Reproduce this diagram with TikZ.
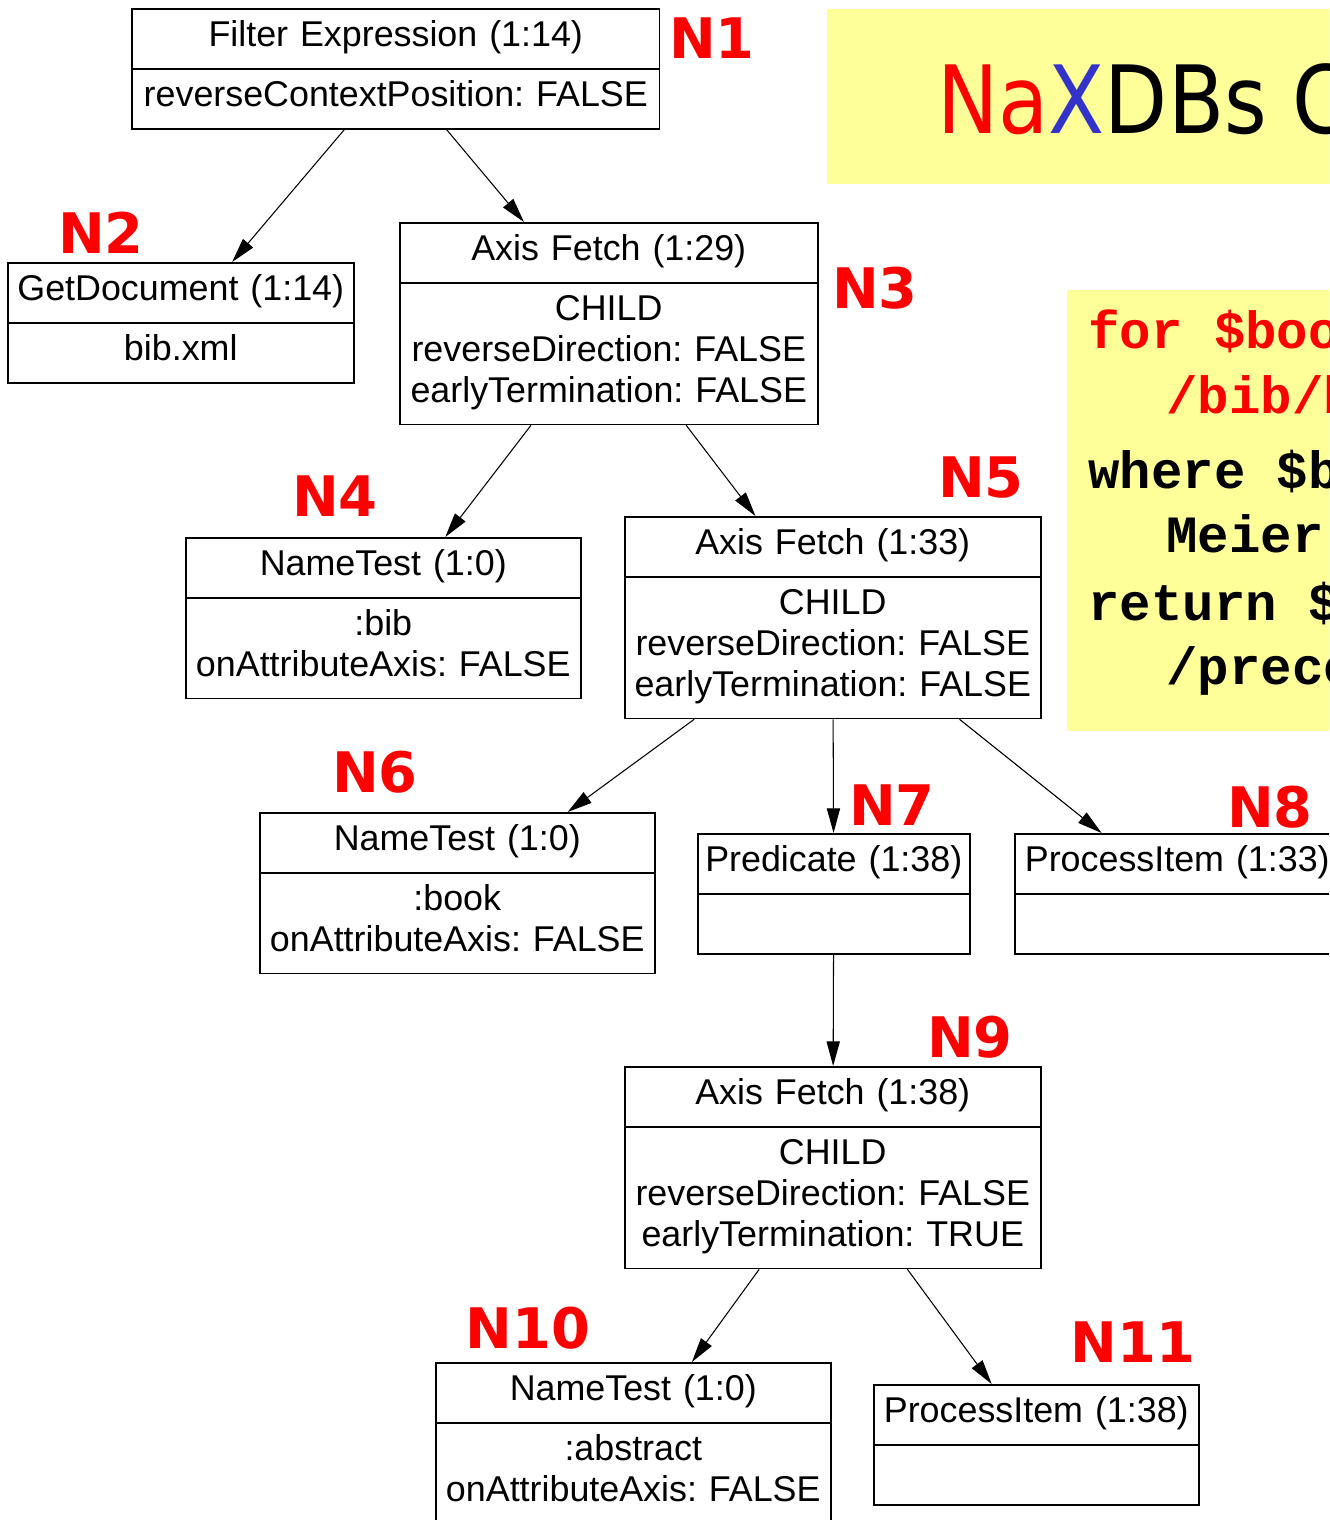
\documentclass[tikz,border=0pt]{standalone}
\usepackage{fontspec}
\setmainfont{Liberation Sans}
\setmonofont{Liberation Mono}
\newfontfamily\labelfont{DejaVu Sans}
\newfontfamily\titlefont[FakeStretch=0.87]{DejaVu Sans}
\usetikzlibrary{shapes.multipart,arrows.meta}
\definecolor{notebg}{HTML}{FFFF99}
\definecolor{xblue}{HTML}{3333CC}
\frenchspacing

\begin{document}
\begin{tikzpicture}[x=0.02cm,y=-0.02cm]
		\tikzstyle{opnode} = [draw,line width=0.9pt,rectangle split,rectangle split parts=2,anchor=north west,inner xsep=0pt,inner ysep=5pt,align=center,font=\fontsize{20.4pt}{23.25pt}\selectfont,execute at begin node=\strut,execute at end node=\strut]
		\tikzstyle{nlabel} = [text=red,inner sep=0pt,font=\labelfont\bfseries\fontsize{31.8pt}{34pt}\selectfont]
		\tikzstyle{edge} = [line width=0.6pt,-{Triangle[length=14pt,width=7.5pt]}]
		\tikzstyle{codeline} = [anchor=base west,inner sep=0pt,font=\ttfamily\bfseries\fontsize{29.8pt}{32pt}\selectfont]
		\useasboundingbox (0,0) rectangle (1329,1520);
		\clip (0,0) rectangle (1329,1520);

		\fill[notebg] (827,9) rectangle (1340,184);
		\fill[notebg] (1067,290) rectangle (1340,731);
		\node[anchor=base west,inner sep=0pt,font=\titlefont\fontsize{53.6pt}{60pt}\selectfont] (title) at (937,134) {\textcolor{red}{Na}\textcolor{xblue}{X}DBs C};

		\node[codeline,text=red] (forclause) at (1088,348) {for \$book in};
		\node[codeline,text=red] (forpath) at (1166,413) {/bib/book};
		\node[codeline] (whereclause) at (1088,488) {where \$book/author =};
		\node[codeline] (whereval) at (1166,552) {Meier};
		\node[codeline] (retclause) at (1088,620) {return \$book};
		\node[codeline] (retpath) at (1166,684) {/preceding};

		\node[opnode,text width=10.56cm] (n1) at (131,8) {Filter Expression (1:14)\nodepart{two}reverseContextPosition: FALSE};
		\node[opnode,text width=6.92cm] (n2) at (7,262) {GetDocument (1:14)\nodepart{two}bib.xml};
		\node[opnode,text width=8.36cm] (n3) at (399,222) {Axis Fetch (1:29)\nodepart{two}CHILD\\reverseDirection: FALSE\\earlyTermination: FALSE};
		\node[opnode,text width=7.9cm] (n4) at (185,537) {NameTest (1:0)\nodepart{two}:bib\\onAttributeAxis: FALSE};
		\node[opnode,text width=8.32cm] (n5) at (624,516) {Axis Fetch (1:33)\nodepart{two}CHILD\\reverseDirection: FALSE\\earlyTermination: FALSE};
		\node[opnode,text width=7.9cm] (n6) at (259,812) {NameTest (1:0)\nodepart{two}:book\\onAttributeAxis: FALSE};
		\node[opnode,text width=5.44cm] (n7) at (697,833) {Predicate (1:38)\nodepart{two}};
		\node[opnode,text width=6.5cm] (n8) at (1014,833) {ProcessItem (1:33)\nodepart{two}};
		\node[opnode,text width=8.32cm] (n9) at (624,1066) {Axis Fetch (1:38)\nodepart{two}CHILD\\reverseDirection: FALSE\\earlyTermination: TRUE};
		\node[opnode,text width=7.9cm] (n10) at (435,1362) {NameTest (1:0)\nodepart{two}:abstract\\onAttributeAxis: FALSE};
		\node[opnode,text width=6.5cm] (n11) at (873,1384) {ProcessItem (1:38)\nodepart{two}};

		\draw[edge] (n1) -- (n2);
		\draw[edge] (n1) -- (n3);
		\draw[edge] (n3) -- (n4);
		\draw[edge] (n3) -- (n5);
		\draw[edge] (n5) -- (n6);
		\draw[edge] (n5) -- (n7);
		\draw[edge] (n5) -- (n8);
		\draw[edge] (n7) -- (n9);
		\draw[edge] (n9) -- (n10);
		\draw[edge] (n9) -- (n11);

		\node[nlabel] (l1) at (712,38) {N1};
		\node[nlabel] (l2) at (101,233) {N2};
		\node[nlabel] (l3) at (875,288) {N3};
		\node[nlabel] (l4) at (335,496) {N4};
		\node[nlabel] (l5) at (981,478) {N5};
		\node[nlabel] (l6) at (375,772) {N6};
		\node[nlabel] (l7) at (892,805) {N7};
		\node[nlabel] (l8) at (1270,807) {N8};
		\node[nlabel] (l9) at (970,1037) {N9};
		\node[nlabel] (l10) at (528,1328) {N10};
		\node[nlabel] (l11) at (1133,1342) {N11};
	\end{tikzpicture}
\end{document}
